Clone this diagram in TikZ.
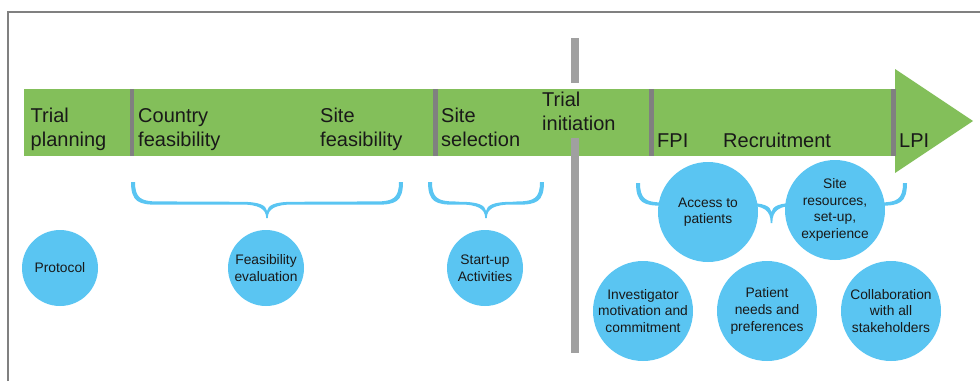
\documentclass[tikz,border=0pt]{standalone}
\usepackage{fontspec}
\setmainfont{Liberation Sans}
\definecolor{bargreen}{RGB}{131,191,90}
\definecolor{factorblue}{RGB}{90,197,242}
\definecolor{sepgray}{RGB}{128,128,128}
\definecolor{milegray}{RGB}{160,160,160}
\definecolor{framegray}{RGB}{128,128,128}
\definecolor{ink}{RGB}{25,25,25}

\tikzset{
  phase/.style={anchor=base west, align=left, inner sep=0pt, text=ink,
                font=\fontsize{20}{24}\selectfont},
  factor/.style={circle, fill=factorblue, minimum size=100pt, inner sep=0pt,
                 align=center, text=ink, font=\fontsize{13.8}{16.6}\selectfont},
  smallfactor/.style={factor, minimum size=76pt},
  divider/.style={draw=sepgray, line width=4.5pt},
  milestone/.style={draw=milegray, line width=7.5pt},
}

% curly brace with tapered ends: left x, right x, end y, bar y, tip y
\newcommand\phasebrace[5]{%
  \pgfmathsetmacro\bm{(#1+#2)/2}%
  \fill[factorblue]
    (#1-2,#3) .. controls (#1-2,#4-1) and (#1+6,#4+1.7) .. (#1+24,#4+1.7)
    -- (\bm-26,#4+1.5) .. controls (\bm-8,#4+1.5) and (\bm-0.8,#4+6) .. (\bm-0.8,#5)
    -- (\bm+0.8,#5) .. controls (\bm+0.8,#4+6) and (\bm+8,#4+1.5) .. (\bm+26,#4+1.5)
    -- (#2-24,#4+1.7) .. controls (#2-6,#4+1.7) and (#2+2,#4-1) .. (#2+2,#3)
    -- (#2-2,#3) .. controls (#2-2,#4-5) and (#2-8,#4-1.6) .. (#2-24,#4-1.6)
    -- (\bm+26,#4-1.2) .. controls (\bm+8,#4-1.2) and (\bm+1,#4+2) .. (\bm,#4+8)
    .. controls (\bm-1,#4+2) and (\bm-8,#4-1.2) .. (\bm-26,#4-1.2)
    -- (#1+24,#4-1.6) .. controls (#1+8,#4-1.6) and (#1+2,#4-5) .. (#1+2,#3)
    -- cycle;
}

\begin{document}
\begin{tikzpicture}[x=1pt, y=-1pt]
  \useasboundingbox (0,0) rectangle (980,381);

  % frame
  \draw[framegray, line width=2.5pt] (8,381) -- (8,12) -- (981,12);

  % timeline bar and arrow head
  \fill[bargreen] (24,89) rectangle (896,156);
  \fill[bargreen] (895,69) -- (973,121) -- (895,173) -- cycle;

  % phase dividers
  \draw[divider] (132,89) -- (132,156);
  \draw[divider] (435.5,89) -- (435.5,156);
  \draw[divider] (651.5,89) -- (651.5,156);
  \draw[divider] (893.5,89) -- (893.5,156);

  % trial initiation milestone
  \coordinate (mtop) at (575,38);
  \coordinate (mgapA) at (575,83);
  \coordinate (mgapB) at (575,138);
  \coordinate (mbot) at (575,353);
  \draw[milestone] (mtop) -- (mgapA);
  \draw[milestone] (mgapB) -- (mbot);

  % phase labels (anchored at the baseline of the last line)
  \node[phase] (plan) at (30.5,146.7) {Trial\\planning};
  \node[phase] (country) at (138,146.7) {Country\\feasibility};
  \node[phase] (sitefeas) at (320,146.7) {Site\\feasibility};
  \node[phase] (sitesel) at (441,146.7) {Site\\selection};
  \node[phase] (init) at (542,130.7) {Trial\\initiation};
  \node[phase] (fpi) at (657,147.3) {FPI};
  \node[phase] (recruit) at (723,147.3) {Recruitment};
  \node[phase] (lpi) at (899,147.3) {LPI};

  % braces
  \phasebrace{133}{401}{182}{203}{218}
  \phasebrace{430}{542}{182}{203}{218}
  \phasebrace{638}{905}{183}{204}{223}

  % factors
  \node[smallfactor] (protocol) at (60,268) {Protocol};
  \node[smallfactor] (feaseval) at (266,268) {Feasibility\\evaluation};
  \node[smallfactor] (startup) at (485,268) {Start-up\\Activities};
  \node[factor] (access) at (708,212) {Access to\\patients};
  \node[factor] (resources) at (835,210) {Site\\resources,\\set-up,\\experience};
  \node[factor] (investigator) at (643,311) {Investigator\\motivation and\\commitment};
  \node[factor] (needs) at (767,311) {Patient\\needs and\\preferences};
  \node[factor] (collab) at (891,311) {Collaboration\\with all\\stakeholders};
\end{tikzpicture}
\end{document}
